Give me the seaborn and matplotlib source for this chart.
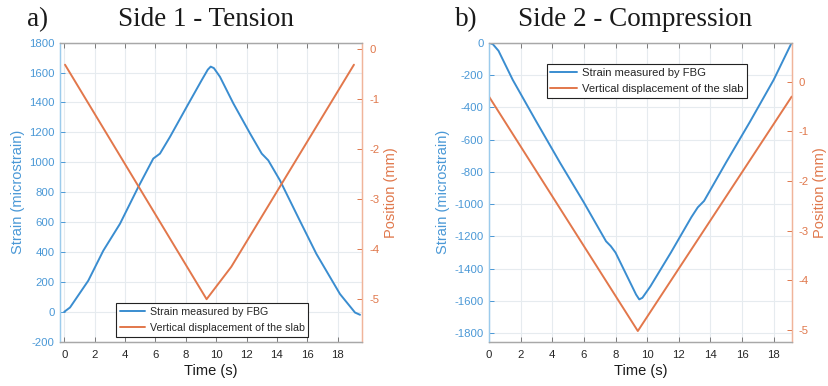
import numpy as np
import pandas as pd
import matplotlib
matplotlib.use("Agg")
import matplotlib.pyplot as plt
import seaborn as sns

# ---------------- data ----------------
# Panel a) Side 1 - Tension
time_strain_a = [0, 0.38, 1.58, 2.57, 3.67, 4.87, 5.86, 6.3, 6.96, 8.06, 9.05, 9.45, 9.64,
                 9.85, 10.25, 11.13, 12.23, 13.0, 13.43, 14.2, 15.5, 16.6, 18.15, 19.14, 19.47]
strain_a = [0, 29, 208, 409, 589, 834, 1025, 1058, 1170, 1371, 1550, 1620, 1640,
            1630, 1572, 1394, 1193, 1058, 1013, 879, 611, 387, 119, -5, -20]
time_pos_a = [0.05, 9.37, 11.0, 19.07]
pos_a = [-0.31, -5.0, -4.35, -0.31]

# Panel b) Side 2 - Compression
time_strain_b = [0, 0.25, 0.6, 1.5, 3.0, 4.5, 6.0, 7.4, 7.7, 8.0, 8.8, 9.3, 9.5, 9.7,
                 10.2, 11.5, 12.8, 13.2, 13.6, 15.0, 16.5, 18.0, 19.14]
strain_b = [0, -10, -50, -230, -490, -745, -990, -1230, -1260, -1300, -1460, -1560, -1590, -1580,
            -1510, -1300, -1080, -1020, -980, -740, -490, -230, 0]
time_pos_b = [0.0, 9.41, 19.14]
pos_b = [-0.3, -5.02, -0.3]

titles = ["Side 1 - Tension", "Side 2 - Compression"]
panel_tags = ["a)", "b)"]
legend_labels = ["Strain measured by FBG", "Vertical displacement of the slab"]
xlabel = "Time (s)"
ylabel_left = "Strain (microstrain)"
ylabel_right = "Position (mm)"
xticks = list(range(0, 20, 2))
yticks_left_a = list(range(-200, 1801, 200))
yticks_left_b = list(range(-1800, 1, 200))
yticks_right = [0, -1, -2, -3, -4, -5]

# ---------------- style ----------------
sns.set_theme(style="white")
plt.rcParams['font.family'] = ['Liberation Sans', 'DejaVu Sans']
plt.rcParams['axes.unicode_minus'] = False

BLUE = "#3a8dd0"
ORANGE = "#e2774b"
BLUE_T = "#4a98d6"
ORANGE_T = "#e0784c"
GRID = "#e6ebef"
BOX = "#a8a8a8"
SERIF = ['Liberation Serif', 'DejaVu Serif']

W, H = 829, 386
fig = plt.figure(figsize=(W / 100, H / 100), dpi=100)

def fx(px):
    return px / W

def fy(py):
    return 1 - py / H

panels = [
    dict(left=60, right=362.3, xlim=(-0.28, 19.62), ylim=(-200, 1800), ylim_r=(-5.85, 0.13),
         yt=yticks_left_a, ts=time_strain_a, s=strain_a, tp=time_pos_a, p=pos_a,
         legfs=7.7, leg=dict(loc="lower left", bbox_to_anchor=(0.185, 0.017))),
    dict(left=489, right=791.7, xlim=(0, 19.14), ylim=(-1852, 0), ylim_r=(-5.235, 0.785),
         yt=yticks_left_b, ts=time_strain_b, s=strain_b, tp=time_pos_b, p=pos_b,
         legfs=8.1, leg=dict(loc="upper left", bbox_to_anchor=(0.19, 0.93))),
]
top, bottom = 42.7, 341.7

for i, P in enumerate(panels):
    ax = fig.add_axes([fx(P["left"]), fy(bottom), fx(P["right"] - P["left"]), (bottom - top) / H])
    ax2 = ax.twinx()

    df_s = pd.DataFrame({"t": P["ts"], "v": P["s"]})
    df_p = pd.DataFrame({"t": P["tp"], "v": P["p"]})
    sns.lineplot(data=df_s, x="t", y="v", ax=ax, color=BLUE, lw=1.4, sort=False, label=legend_labels[0], legend=False)
    sns.lineplot(data=df_p, x="t", y="v", ax=ax2, color=ORANGE, lw=1.4, sort=False, label=legend_labels[1], legend=False)

    ax.set_xlim(*P["xlim"])
    ax.set_ylim(*P["ylim"])
    ax2.set_ylim(*P["ylim_r"])
    ax.set_xticks(xticks)
    ax.set_yticks(P["yt"])
    ax2.set_yticks(yticks_right)
    ax.grid(True, color=GRID, lw=0.8)
    ax.set_axisbelow(True)

    ax.tick_params(axis="x", direction="in", length=3.5, width=0.7, color="#7a7a7a",
                   labelsize=8.2, labelcolor="#262626", pad=6, top=True, bottom=True)
    ax.tick_params(axis="y", direction="in", length=3.5, width=0.7, color=BLUE_T,
                   labelsize=8.2, labelcolor=BLUE_T, pad=4, left=True, right=False)
    ax2.tick_params(axis="y", direction="in", length=3.5, width=0.7, color=ORANGE_T,
                    labelsize=8.2, labelcolor=ORANGE_T, pad=5)
    ax2.tick_params(axis="x", top=False, bottom=False)

    for a in (ax, ax2):
        a.spines["top"].set_color(BOX)
        a.spines["bottom"].set_color(BOX)
        a.spines["left"].set_color("#9ccbec")
        a.spines["right"].set_color("#f0b49a")
        for sp in a.spines.values():
            sp.set_linewidth(0.9)

    ax.set_xlabel(xlabel, fontsize=10.5, color="#1a1a1a", labelpad=3)
    ax.set_ylabel(ylabel_left, fontsize=10.5, color=BLUE_T, labelpad=3)
    ax2.set_ylabel(ylabel_right, fontsize=10.5, color=ORANGE_T, labelpad=3)

    h1, l1 = ax.get_legend_handles_labels()
    h2, l2 = ax2.get_legend_handles_labels()
    leg = ax2.legend(h1 + h2, l1 + l2, fontsize=P["legfs"], frameon=True, fancybox=False,
                     edgecolor="#222222", framealpha=1, borderaxespad=0, borderpad=0.35,
                     handlelength=2.4, handletextpad=0.4, labelspacing=0.55, **P["leg"])
    leg.get_frame().set_linewidth(0.8)

# titles
fig.text(fx(27), fy(26), panel_tags[0], fontsize=19.5, family=SERIF, color="#1a1a1a", va="baseline")
fig.text(fx(206), fy(26), titles[0], fontsize=19.5, family=SERIF, color="#1a1a1a", ha="center", va="baseline")
fig.text(fx(455), fy(26), panel_tags[1], fontsize=19.5, family=SERIF, color="#1a1a1a", va="baseline")
fig.text(fx(635.5), fy(26), titles[1], fontsize=19.5, family=SERIF, color="#1a1a1a", ha="center", va="baseline")

fig.savefig("out.png", dpi=100)
